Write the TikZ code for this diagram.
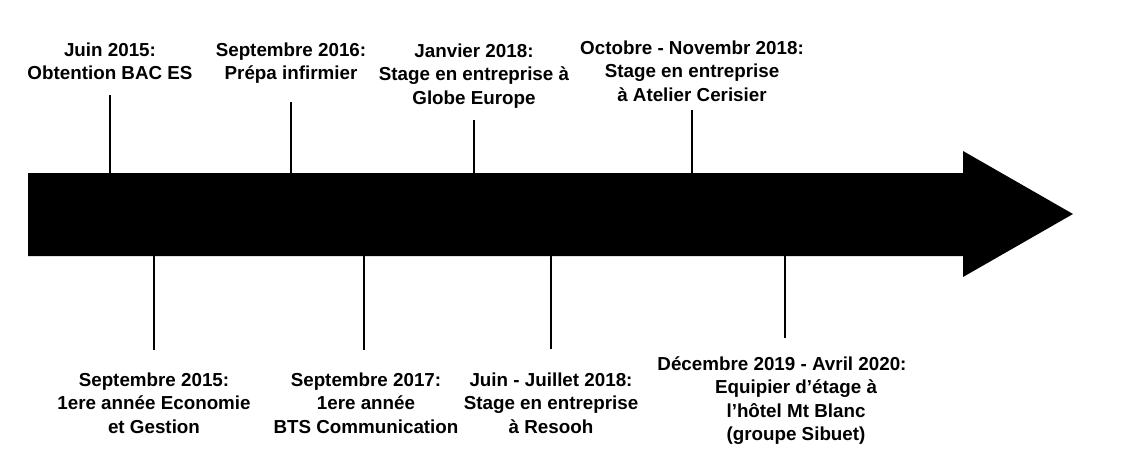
\documentclass[tikz,border=0pt]{standalone}
\usepackage{fontspec}
\setmainfont{Liberation Sans}
\begin{document}
\begin{tikzpicture}[x=1pt,y=-1pt,
  lbl/.style={inner sep=0pt,anchor=base,font=\bfseries\fontsize{18.8}{23.5}\selectfont},
  tick/.style={line width=2pt,black}]
\useasboundingbox (0,0) rectangle (1138,463);
% timeline arrow
\fill[black] (28,173) -- (963,173) -- (963,151) -- (1073,214) -- (963,277) -- (963,256) -- (28,256) -- cycle;
% top labels
\node[lbl] (a1) at (110,56) {\begin{tabular}[t]{@{}c@{}}Juin 2015:\\Obtention BAC ES\end{tabular}};
\node[lbl] (a2) at (291,56) {\begin{tabular}[t]{@{}c@{}}Septembre 2016:\\Prépa infirmier\end{tabular}};
\node[lbl] (a3) at (474,57) {\begin{tabular}[t]{@{}c@{}}Janvier 2018:\\Stage en entreprise à\\Globe Europe\end{tabular}};
\node[lbl] (a4) at (692,54) {\begin{tabular}[t]{@{}c@{}}Octobre - Novembr 2018:\\Stage en entreprise\\à Atelier Cerisier\end{tabular}};
% bottom labels
\node[lbl] (b1) at (154,386) {\begin{tabular}[t]{@{}c@{}}Septembre 2015:\\1ere année Economie\\et Gestion\end{tabular}};
\node[lbl] (b2) at (366,386) {\begin{tabular}[t]{@{}c@{}}Septembre 2017:\\1ere année\\BTS Communication\end{tabular}};
\node[lbl] (b3) at (551,386) {\begin{tabular}[t]{@{}c@{}}Juin - Juillet 2018:\\Stage en entreprise\\à Resooh\end{tabular}};
\node[lbl] (b4) at (782,370) {\begin{tabular}[t]{@{}c@{}}Décembre 2019 - Avril 2020:\\\hspace*{28pt}Equipier d’étage à\\\hspace*{28pt}l’hôtel Mt Blanc\\\hspace*{28pt}(groupe Sibuet)\end{tabular}};
% tick ends
\coordinate (ta1) at (110,95);  \coordinate (tb1) at (110,173);
\coordinate (ta2) at (291,102); \coordinate (tb2) at (291,173);
\coordinate (ta3) at (474,120); \coordinate (tb3) at (474,173);
\coordinate (ta4) at (692,110); \coordinate (tb4) at (692,173);
\coordinate (ba1) at (154,256); \coordinate (bb1) at (154,350);
\coordinate (ba2) at (364,256); \coordinate (bb2) at (364,350);
\coordinate (ba3) at (551,256); \coordinate (bb3) at (551,349);
\coordinate (ba4) at (785,256); \coordinate (bb4) at (785,338);
\foreach \i in {1,2,3,4}{
  \draw[tick] (ta\i) -- (tb\i);
  \draw[tick] (ba\i) -- (bb\i);
}
\end{tikzpicture}
\end{document}
